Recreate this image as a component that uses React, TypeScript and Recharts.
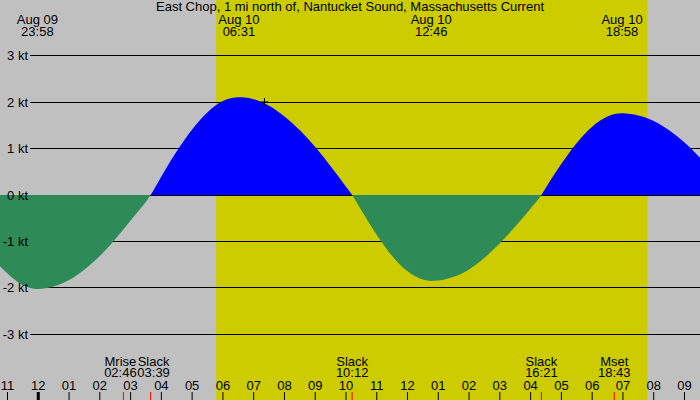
import React from 'react';
import {
  ComposedChart,
  Area,
  XAxis,
  YAxis,
  CartesianGrid,
  ReferenceArea,
  ReferenceDot,
} from 'recharts';

// hours after midnight, Aug 10 (negative = Aug 09)
const hours = [
  -1.244, -1, -0.5, -0.03, 0.5, 1, 1.5, 2, 2.5, 3, 3.65, 4, 4.5, 5, 5.5, 6, 6.52, 7, 7.5, 8, 8.5, 9,
  9.5, 10, 10.2, 10.5, 11, 11.5, 12, 12.5, 12.77, 13, 13.5, 14, 14.5, 15, 15.5, 16, 16.35, 16.5, 17,
  17.5, 18, 18.5, 18.97, 19.5, 20, 20.5, 21, 21.504,
];
// current speed in knots (+ flood, - ebb)
const speeds = [
  -1.53, -1.69, -1.94, -2.02, -1.97, -1.83, -1.6, -1.31, -0.95, -0.55, 0, 0.4, 0.94, 1.41, 1.78, 2.02,
  2.1, 2.06, 1.92, 1.69, 1.39, 1.03, 0.62, 0.18, 0, -0.33, -0.86, -1.31, -1.64, -1.82, -1.85, -1.84,
  -1.76, -1.6, -1.35, -1.04, -0.68, -0.29, 0, 0.16, 0.67, 1.12, 1.47, 1.69, 1.76, 1.71, 1.59, 1.39,
  1.13, 0.8,
];

const hourTicks = [-1, 0, 1, 2, 3, 4, 5, 6, 7, 8, 9, 10, 11, 12, 13, 14, 15, 16, 17, 18, 19, 20, 21];
const hourLabels = [
  '11', '12', '01', '02', '03', '04', '05', '06', '07', '08', '09', '10', '11', '12', '01', '02', '03',
  '04', '05', '06', '07', '08', '09',
];
const speedTicks = [-3, -2, -1, 0, 1, 2, 3];

const peakTimes = [-0.03, 6.52, 12.77, 18.97];
const peakDates = ['Aug 09', 'Aug 10', 'Aug 10', 'Aug 10'];
const peakClock = ['23:58', '06:31', '12:46', '18:58'];

const eventTimes = [2.767, 3.65, 10.2, 16.35, 18.717];
const eventNames = ['Mrise', 'Slack', 'Slack', 'Slack', 'Mset'];
const eventClock = ['02:46', '03:39', '10:12', '16:21', '18:43'];

const daylight = [5.78, 19.795];
const nowTime = 7.35;
const nowSpeed = 2;

const title = 'East Chop, 1 mi north of, Nantucket Sound, Massachusetts Current';

const data = hours.map((h, i) => ({ h, speed: speeds[i] }));

const font = '"Liberation Sans", Arial, sans-serif';
const fs = 13;
const labelShift = [-3, 3, 0, 0, 0];
const yDomain: [number, number] = [-4.409, 4.194];
const xDomain: [number, number] = [-1.244, 21.504];
// where 0 kt falls in the 400px plot, for the flood/ebb colour split
const zeroAt = yDomain[1] / (yDomain[1] - yDomain[0]);

const HourTick = (props: any) => {
  const { x, payload } = props;
  const i = hourTicks.indexOf(payload.value);
  return (
    <g>
      <text x={x} y={389.5} textAnchor="middle" fontSize={fs} fontFamily={font} fill="#000">
        {hourLabels[i]}
      </text>
      <line x1={x} x2={x} y1={392} y2={400} stroke="#000" strokeWidth={payload.value === 0 ? 3 : 1} />
    </g>
  );
};

const EventTick = (props: any) => {
  const { x, payload } = props;
  const i = eventTimes.indexOf(payload.value);
  const tx = x + labelShift[i];
  return (
    <g>
      <text x={tx} y={366} textAnchor="middle" fontSize={fs} fontFamily={font} fill="#000">
        {eventNames[i]}
      </text>
      <text x={tx} y={377} textAnchor="middle" fontSize={fs} fontFamily={font} fill="#000">
        {eventClock[i]}
      </text>
      <line x1={x} x2={x} y1={392} y2={400} stroke="#ff0000" />
    </g>
  );
};

const PeakTick = (props: any) => {
  const { x, payload } = props;
  const i = peakTimes.indexOf(payload.value);
  return (
    <g>
      <text x={x} y={24} textAnchor="middle" fontSize={fs} fontFamily={font} fill="#000">
        {peakDates[i]}
      </text>
      <text x={x} y={35.5} textAnchor="middle" fontSize={fs} fontFamily={font} fill="#000">
        {peakClock[i]}
      </text>
    </g>
  );
};

const SpeedTick = (props: any) => {
  const { y, payload } = props;
  return (
    <text x={28} y={y} dy={4.5} textAnchor="end" fontSize={fs} fontFamily={font} fill="#000">
      {payload.value} kt
    </text>
  );
};

const gridLine = (p: any) => (
  <line
    key={`g-${p.index}`}
    x1={30}
    x2={p.x2}
    y1={p.y1}
    y2={p.y2}
    stroke="#000"
    strokeWidth={1}
    shapeRendering="crispEdges"
  />
);

const NowCross = (p: any) => (
  <g>
    <line x1={p.cx} x2={p.cx} y1={p.cy - 4} y2={p.cy + 4} stroke="#000" />
    <line x1={p.cx - 4} x2={p.cx + 4} y1={p.cy} y2={p.cy} stroke="#000" />
  </g>
);

export default function App() {
  return (
    <div
      style={{
        position: 'absolute',
        left: 0,
        top: 0,
        width: 700,
        height: 400,
        background: '#c0c0c0',
        fontFamily: font,
      }}
    >
      <ComposedChart width={700} height={400} data={data} margin={{ top: 0, right: 0, bottom: 0, left: 0 }}>
        <defs>
          <linearGradient id="tideFill" gradientUnits="userSpaceOnUse" x1={0} y1={0} x2={0} y2={400}>
            <stop offset={zeroAt} stopColor="#0000ff" />
            <stop offset={zeroAt} stopColor="#2e8b57" />
          </linearGradient>
        </defs>
        <ReferenceArea
          x1={daylight[0]}
          x2={daylight[1]}
          fill="#cccc00"
          fillOpacity={1}
          stroke="none"
          zIndex={-200}
        />
        <CartesianGrid vertical={false} horizontal={gridLine} horizontalValues={speedTicks} />
        <XAxis
          dataKey="h"
          type="number"
          domain={xDomain}
          allowDataOverflow
          ticks={hourTicks}
          interval={0}
          mirror
          height={40}
          axisLine={false}
          tickLine={false}
          tick={HourTick}
        />
        <XAxis
          xAxisId="events"
          dataKey="h"
          type="number"
          domain={xDomain}
          allowDataOverflow
          ticks={eventTimes}
          interval={0}
          mirror
          height={40}
          axisLine={false}
          tickLine={false}
          tick={EventTick}
        />
        <XAxis
          xAxisId="peaks"
          orientation="top"
          dataKey="h"
          type="number"
          domain={xDomain}
          allowDataOverflow
          ticks={peakTimes}
          interval={0}
          mirror
          height={40}
          axisLine={false}
          tickLine={false}
          tick={PeakTick}
        />
        <Area
          type="monotone"
          dataKey="speed"
          baseValue={0}
          fill="url(#tideFill)"
          fillOpacity={1}
          stroke="none"
          isAnimationActive={false}
        />
        <YAxis
          type="number"
          domain={yDomain}
          allowDataOverflow
          ticks={speedTicks}
          interval={0}
          mirror
          width={40}
          axisLine={false}
          tickLine={false}
          tick={SpeedTick}
        />
        <ReferenceDot x={nowTime} y={nowSpeed} r={4} shape={NowCross} />
      </ComposedChart>
      <div
        style={{
          position: 'absolute',
          left: 0,
          top: 0,
          width: 700,
          textAlign: 'center',
          fontSize: fs,
          lineHeight: '14px',
          color: '#000',
        }}
      >
        {title}
      </div>
    </div>
  );
}
